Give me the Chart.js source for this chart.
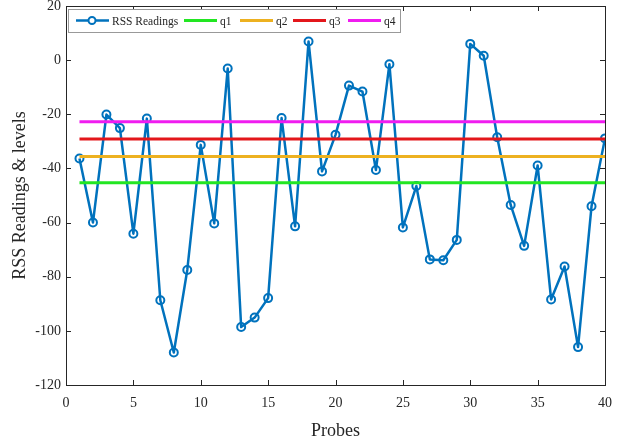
<!DOCTYPE html>
<html>
<head>
<meta charset="utf-8">
<script src="https://cdn.jsdelivr.net/npm/chart.js@4.4.0/dist/chart.umd.min.js"></script>
<style>
  html, body { margin: 0; padding: 0; background: #fff; }
  #wrap { width: 633px; height: 447px; }
</style>
</head>
<body>
<div id="wrap"><canvas id="rssChart"></canvas></div>
<script>
// probe numbers and readings
var probes = [1, 2, 3, 4, 5, 6, 7, 8, 9, 10, 11, 12, 13, 14, 15, 16, 17, 18, 19, 20,
  21, 22, 23, 24, 25, 26, 27, 28, 29, 30, 31, 32, 33, 34, 35, 36, 37, 38, 39, 40];
var rss = [-36.3, -60.0, -20.1, -25.1, -64.1, -21.6, -88.7, -108.0, -77.5, -31.3,
  -60.3, -3.1, -98.6, -95.1, -87.9, -21.4, -61.4, 6.9, -41.1, -27.6,
  -9.4, -11.6, -40.6, -1.5, -61.8, -46.5, -73.6, -73.9, -66.4, 6.0,
  1.6, -28.5, -53.5, -68.6, -38.9, -88.4, -76.2, -106.0, -54.0, -28.9];
var qNames = ['q1', 'q2', 'q3', 'q4'];
var qLevels = [-45.3, -35.6, -29.1, -22.8];
var qColors = ['#22e622', '#edb120', '#e3161b', '#f01cf0'];
var xTicks = [0, 5, 10, 15, 20, 25, 30, 35, 40];
var yTicks = [-120, -100, -80, -60, -40, -20, 0, 20];

var serif = '"Liberation Serif", "Times New Roman", serif';
var ink = '#262626';

var datasets = [{
  label: 'RSS Readings',
  data: probes.map(function (p, i) { return { x: p, y: rss[i] }; }),
  borderColor: '#0072bd',
  borderWidth: 2.5,
  borderJoinStyle: 'round',
  pointRadius: 4,
  pointBorderWidth: 2,
  pointBackgroundColor: 'rgba(255,255,255,0)',
  pointBorderColor: '#0072bd',
  tension: 0,
  order: 1
}];
for (var k = 0; k < qNames.length; k++) {
  datasets.push({
    label: qNames[k],
    data: [{ x: probes[0], y: qLevels[k] }, { x: probes[probes.length - 1], y: qLevels[k] }],
    borderColor: qColors[k],
    borderWidth: 3,
    pointRadius: 0,
    order: 0
  });
}

// box round the plot and matlab style inward ticks
var axesBox = {
  id: 'axesBox',
  afterDraw: function (chart) {
    var ctx = chart.ctx, a = chart.chartArea;
    var sx = chart.scales.x, sy = chart.scales.y;
    ctx.save();
    ctx.strokeStyle = ink;
    ctx.lineWidth = 1;
    ctx.strokeRect(a.left + 0.5, a.top + 0.5, a.right - a.left, a.bottom - a.top);
    ctx.beginPath();
    xTicks.forEach(function (v) {
      var px = Math.round(sx.getPixelForValue(v)) + 0.5;
      ctx.moveTo(px, a.bottom); ctx.lineTo(px, a.bottom - 5);
      ctx.moveTo(px, a.top); ctx.lineTo(px, a.top + 5);
    });
    yTicks.forEach(function (v) {
      var py = Math.round(sy.getPixelForValue(v)) + 0.5;
      ctx.moveTo(a.left, py); ctx.lineTo(a.left + 5, py);
      ctx.moveTo(a.right, py); ctx.lineTo(a.right - 5, py);
    });
    ctx.stroke();
    ctx.restore();
  }
};

// legend box inside the top left of the plot
var legendBox = {
  id: 'legendBox',
  afterDraw: function (chart) {
    var ctx = chart.ctx;
    var ds = chart.data.datasets;
    var starts = [76, 184, 240, 293, 348];
    var bx = 68, by = 9, bw = 332, bh = 23, cy = by + bh / 2;
    ctx.save();
    ctx.fillStyle = '#fff';
    ctx.fillRect(bx, by, bw, bh);
    ctx.strokeStyle = '#999';
    ctx.lineWidth = 1;
    ctx.strokeRect(bx + 0.5, by + 0.5, bw, bh);
    ctx.font = '11.5px ' + serif;
    ctx.textBaseline = 'middle';
    ds.forEach(function (d, i) {
      var x = starts[i];
      ctx.strokeStyle = d.borderColor;
      ctx.lineWidth = d.borderWidth;
      ctx.beginPath();
      ctx.moveTo(x, cy); ctx.lineTo(x + 33, cy);
      ctx.stroke();
      if (d.pointRadius > 0) {
        ctx.beginPath();
        ctx.lineWidth = 2;
        ctx.fillStyle = '#fff';
        ctx.arc(x + 16, cy, 3.5, 0, Math.PI * 2);
        ctx.fill();
        ctx.stroke();
      }
      ctx.fillStyle = ink;
      ctx.fillText(d.label, x + 36, cy + 1);
    });
    ctx.restore();
  }
};

var ctx1 = document.getElementById('rssChart');
new Chart(ctx1, {
  type: 'line',
  data: { datasets: datasets },
  options: {
    responsive: true,
    maintainAspectRatio: false,
    animation: false,
    layout: { padding: { left: 0, top: 1, right: 28, bottom: 0 } },
    plugins: {
      legend: { display: false },
      tooltip: { enabled: false }
    },
    scales: {
      x: {
        type: 'linear',
        min: 0,
        max: 40,
        afterBuildTicks: function (s) { s.ticks = xTicks.map(function (v) { return { value: v }; }); },
        afterFit: function (s) { s.height = 62; },
        grid: { display: false, drawTicks: false },
        border: { display: false },
        ticks: { color: ink, padding: 13, maxRotation: 0, font: { family: serif, size: 14, lineHeight: 0.8 } },
        title: { display: true, text: 'Probes', color: ink, padding: { top: 0, bottom: 5 }, font: { family: serif, size: 18 } }
      },
      y: {
        min: -120,
        max: 20,
        afterBuildTicks: function (s) { s.ticks = yTicks.map(function (v) { return { value: v }; }); },
        afterFit: function (s) { s.width = 66; },
        grid: { display: false, drawTicks: false },
        border: { display: false },
        ticks: { color: ink, padding: 5, font: { family: serif, size: 14, lineHeight: 0.01 } },
        title: { display: true, text: 'RSS Readings & levels', color: ink, padding: { top: 9, bottom: 0 }, font: { family: serif, size: 18 } }
      }
    }
  },
  plugins: [axesBox, legendBox]
});
</script>
</body>
</html>
